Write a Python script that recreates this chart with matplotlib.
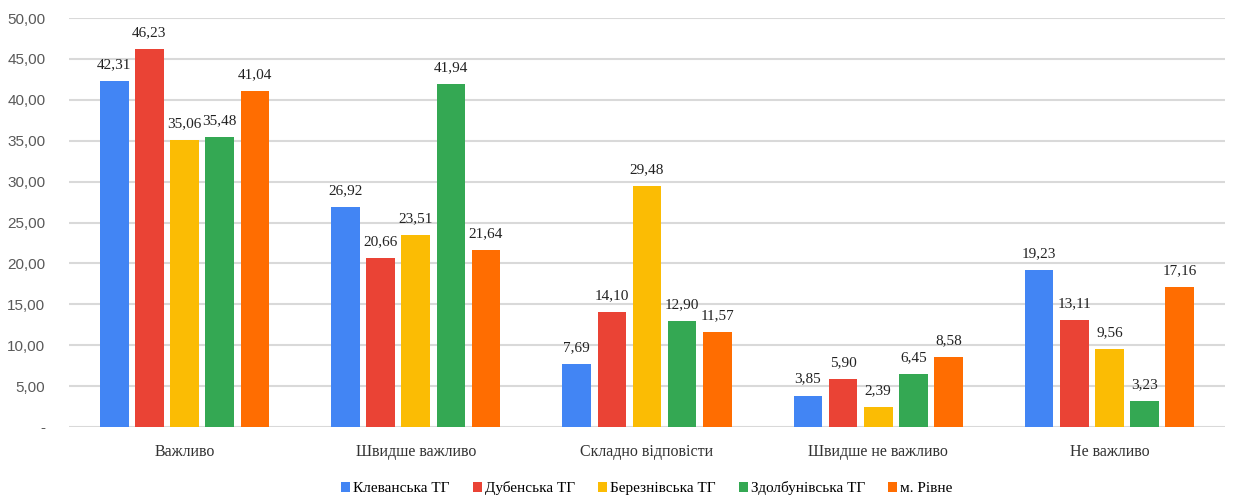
import numpy as np
import matplotlib.pyplot as plt
from matplotlib.ticker import FuncFormatter

categories = ["Важливо", "Швидше важливо", "Складно відповісти", "Швидше не важливо", "Не важливо"]
series_names = ["Клеванська ТГ", "Дубенська ТГ", "Березнівська ТГ", "Здолбунівська ТГ", "м. Рівне"]
klevan = [42.31, 26.92, 7.69, 3.85, 19.23]
duben = [46.23, 20.66, 14.10, 5.90, 13.11]
berezne = [35.06, 23.51, 29.48, 2.39, 9.56]
zdolbuniv = [35.48, 41.94, 12.90, 6.45, 3.23]
rivne = [41.04, 21.64, 11.57, 8.58, 17.16]
colors = ["#4285f4", "#ea4335", "#fbbc04", "#34a853", "#ff6d01"]

series = [klevan, duben, berezne, zdolbuniv, rivne]

fig = plt.figure(figsize=(12.38, 4.99), dpi=100)
ax = fig.add_axes([0.0557, 0.1443, 0.9338, 0.8196])

x = np.arange(len(categories))
step = 0.152
width = 0.124
for i, (vals, name, col) in enumerate(zip(series, series_names, colors)):
    pos = x + (i - 2) * step
    bars = ax.bar(pos, vals, width, color=col, label=name, zorder=3)
    for b, v in zip(bars, vals):
        ax.text(b.get_x() + b.get_width() / 2, v + 1.2, f"{v:.2f}".replace(".", ","),
                ha="center", va="bottom", fontsize=11, family="Liberation Serif", color="#222222")

ax.set_xlim(-0.5, len(categories) - 0.5)
ax.set_ylim(0, 50)
ax.set_yticks(np.arange(0, 51, 5))
ax.yaxis.set_major_formatter(FuncFormatter(lambda v, p: "-" if v == 0 else f"{v:.2f}".replace(".", ",")))
ax.grid(axis="y", color="#d9d9d9", linewidth=1.5, zorder=0)
for s in ax.spines.values():
    s.set_visible(False)
ax.tick_params(axis="both", length=0)
ax.tick_params(axis="y", labelsize=11, labelcolor="#595959", pad=17)
for lbl in ax.get_yticklabels():
    lbl.set_family("Liberation Sans")
ax.set_xticks(x)
ax.set_xticklabels(categories, fontsize=11.5, family="Liberation Serif", color="#333333")
ax.tick_params(axis="x", pad=12)

leg = ax.legend(loc="center", bbox_to_anchor=(0.5, -0.15), ncol=5, frameon=False,
                handlelength=0.6, handleheight=0.6, handletextpad=0.2, columnspacing=1.5,
                prop={"family": "Liberation Serif", "size": 11})

fig.savefig("out.png", dpi=100)
